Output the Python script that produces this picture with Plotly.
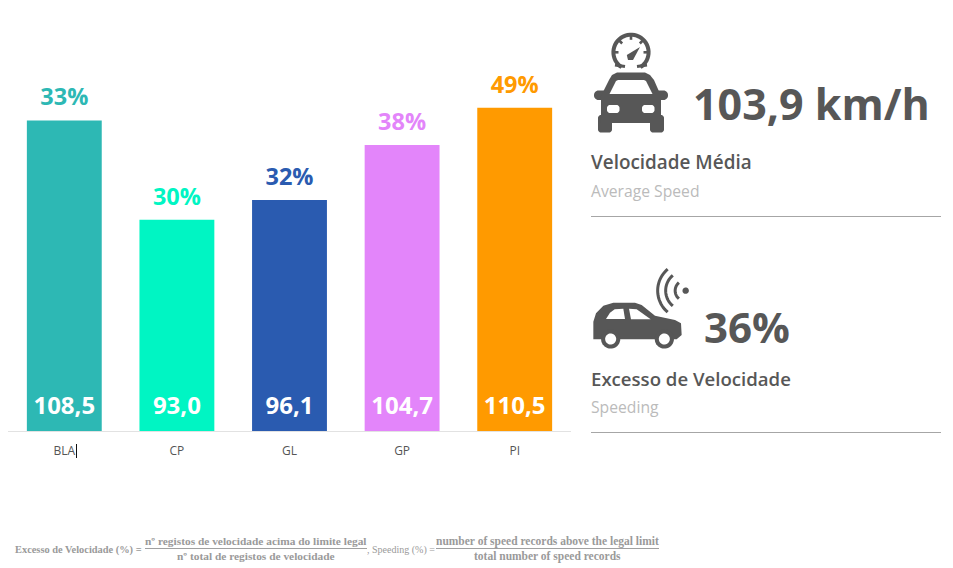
import numpy as np
import plotly.graph_objects as go

categories = ["BLA", "CP", "GL", "GP", "PI"]
speed_values = [108.5, 93.0, 96.1, 104.7, 110.5]
speed_labels = ["108,5", "93,0", "96,1", "104,7", "110,5"]
speeding_labels = ["33%", "30%", "32%", "38%", "49%"]
colors = ["#2DB8B4", "#00F5C3", "#2A5BB0", "#E385FA", "#FF9A00"]

W, H = 953, 568
DARK = "#575757"
FONT = "Open Sans"
AXIS_MIN = 60
PX_PER_UNIT = 6.4

px = lambda x: x / W
py = lambda y: 1 - y / H


def path(points, close=True):
    s = "M " + " L ".join(f"{px(x):.5f},{py(y):.5f}" for x, y in points)
    return s + (" Z" if close else "")


def arc(cx, cy, r, a0, a1, n=40):
    t = np.radians(np.linspace(a0, a1, n))
    return [(cx + r * np.cos(v), cy - r * np.sin(v)) for v in t]


def rrect(x0, y0, x1, y1, r):
    return (arc(x1 - r, y0 + r, r, 90, 0, 8) + arc(x1 - r, y1 - r, r, 0, -90, 8)
            + arc(x0 + r, y1 - r, r, 270, 180, 8) + arc(x0 + r, y0 + r, r, 180, 90, 8))


shapes = []


def fill(points, color=DARK):
    shapes.append(dict(type="path", xref="paper", yref="paper", path=path(points),
                       fillcolor=color, line=dict(width=0), layer="above"))


def stroke(points, width, color=DARK):
    shapes.append(dict(type="path", xref="paper", yref="paper", path=path(points, False),
                       line=dict(color=color, width=width), layer="above"))


def hline(x0, x1, y, color, width=1):
    shapes.append(dict(type="line", xref="paper", yref="paper", x0=px(x0), x1=px(x1),
                       y0=py(y), y1=py(y), line=dict(color=color, width=width), layer="above"))


# front car icon
fill(rrect(598, 115, 612, 132.5, 3))
fill(rrect(650, 115, 664, 132.5, 3))
fill(rrect(594, 90.5, 668, 100, 4.5))
fill([(601, 123), (601, 96), (609, 80), (612, 75), (617, 72.5), (645, 72.5), (650, 75),
      (654, 80), (661, 96), (661, 123)])
fill([(618, 80), (644, 80), (646, 81), (652.5, 94), (609.5, 94), (616, 81)], "white")
fill(rrect(607, 105, 619.5, 113, 3), "white")
fill(rrect(642, 105, 654.5, 113, 3), "white")
# gauge
stroke(arc(631, 52.3, 17.6, -58, 238), 4)
stroke([(615, 65), (625, 66.5)], 3)
stroke([(637, 66.5), (647, 65)], 3)
for a in (180, 135, 90, 45, 0):
    stroke(arc(631, 52.3, 17, a, a, 2)[:1] + arc(631, 52.3, 12.5, a, a, 2)[:1], 2.6)
fill([(626.8, 55), (640, 47), (633, 60), (628, 60)])

# side car icon
zx = lambda p: (580 + p[0] / 3, 260 + p[1] / 3)
body = [(40, 238), (40, 185), (48, 160), (70, 137), (100, 128), (165, 128), (185, 135),
        (225, 167), (285, 180), (303, 190), (305, 225), (290, 238)]
fill([zx(p) for p in body])
fill([zx(p) for p in [(78, 177), (90, 158), (104, 148), (130, 146), (135, 177)]], "white")
fill([zx(p) for p in [(147, 146), (170, 148), (212, 178), (153, 178)]], "white")
for cx in (92, 253):
    c = zx((cx, 237))
    fill(arc(c[0], c[1], 9.6, 0, 360), DARK)
    fill(arc(c[0], c[1], 5.5, 0, 360), "white")
# wifi waves
dot = zx((317, 92))
fill(arc(dot[0], dot[1], 3.2, 0, 360))
for r in (10.5, 20, 28):
    stroke(arc(dot[0], dot[1], r, 130, 230, 24), 3)

# separators and text cursor
hline(591, 941, 216.5, "#A6A6A6", 1)
hline(591, 941, 432.5, "#A6A6A6", 1)
shapes.append(dict(type="line", xref="paper", yref="paper", x0=px(76.5), x1=px(76.5),
                   y0=py(444), y1=py(458), line=dict(color="#111111", width=1), layer="above"))
# fraction bars
hline(145, 367, 548.5, "#A0A0A0", 1)
hline(436, 659, 548.5, "#A0A0A0", 1)


def text(x, y, s, size, color=DARK, weight=400, anchor="left", family=FONT):
    return dict(xref="paper", yref="paper", x=px(x), y=py(y), text=s, showarrow=False,
                xanchor=anchor, yanchor="middle", borderpad=0, borderwidth=0,
                font=dict(family=family, size=size, color=color, weight=weight))


SERIF = "Liberation Serif"
GREY = "#9A9A9A"
annotations = [
    text(693, 104, "103,9 km/h", 43, DARK, 700),
    text(704, 326, "36%", 42, DARK, 700),
    text(591, 162, "Velocidade Média", 18.9, DARK, 600),
    text(591, 191, "Average Speed", 15.7, "#BBBBBB"),
    text(591, 378, "Excesso de Velocidade", 18.6, DARK, 600),
    text(591, 407, "Speeding", 15.7, "#BBBBBB"),
    text(15, 549.5, "Excesso de Velocidade (%) =", 10.4, GREY, 700, family=SERIF),
    text(255.5, 541, "nº registos de velocidade acima do limite legal", 11.4, GREY, 700, "center", SERIF),
    text(255.5, 556, "nº total de registos de velocidade", 11.4, GREY, 700, "center", SERIF),
    text(367, 549.5, ", Speeding (%) =", 10, GREY, 400, family=SERIF),
    text(547.5, 541, "number of speed records above the legal limit", 11.5, GREY, 700, "center", SERIF),
    text(547.5, 556, "total number of speed records", 11.5, GREY, 700, "center", SERIF),
]

fig = go.Figure()
fig.add_trace(go.Bar(
    x=categories, y=speed_values, marker=dict(color=colors, line=dict(width=0)), width=0.665,
    hoverinfo="skip", showlegend=False,
))
# speed values sit just above the axis baseline
fig.add_trace(go.Scatter(
    x=categories, y=[AXIS_MIN + 23 / PX_PER_UNIT] * len(categories), mode="text", text=speed_labels,
    textposition="middle center", cliponaxis=False,
    textfont=dict(family=FONT, size=24, color="white", weight=700),
    hoverinfo="skip", showlegend=False,
))
# speeding percentages float above each bar
fig.add_trace(go.Scatter(
    x=categories, y=[v + 21 / PX_PER_UNIT for v in speed_values], mode="text", text=speeding_labels,
    textposition="middle center", cliponaxis=False,
    textfont=dict(family=FONT, size=23.5, color=colors, weight=700),
    hoverinfo="skip", showlegend=False,
))
fig.update_layout(
    width=W, height=H, margin=dict(l=0, r=0, t=0, b=0, autoexpand=False),
    paper_bgcolor="white", plot_bgcolor="white", showlegend=False,
    shapes=shapes, annotations=annotations,
    xaxis=dict(domain=[px(8), px(571)], showgrid=False, zeroline=False, showline=True,
               linecolor="#E2E2E2", linewidth=1, ticks="outside", ticklen=9,
               tickcolor="rgba(0,0,0,0)", tickfont=dict(family=FONT, size=12, color="#555555")),
    yaxis=dict(domain=[py(431), py(50)], range=[AXIS_MIN, AXIS_MIN + 381 / PX_PER_UNIT], visible=False),
)
fig.write_html("out.html", config=dict(displayModeBar=False),
               post_script="document.body.style.margin='0';document.documentElement.style.overflow='hidden';")
